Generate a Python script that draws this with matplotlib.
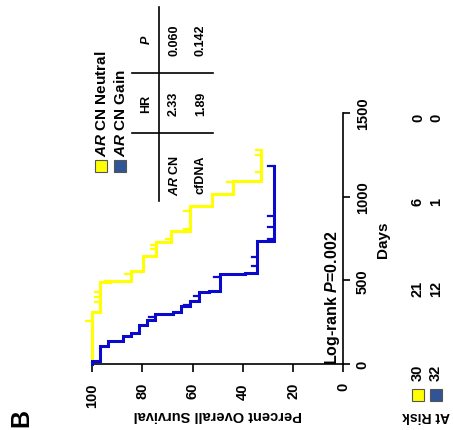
import matplotlib
matplotlib.use("Agg")
import matplotlib.pyplot as plt
import numpy as np
from matplotlib.lines import Line2D
from matplotlib.patches import Rectangle
from matplotlib.transforms import blended_transform_factory

plt.rcParams["font.family"] = ["Liberation Sans", "DejaVu Sans"]
plt.rcParams["font.weight"] = "bold"
plt.rcParams["mathtext.fontset"] = "custom"
plt.rcParams["mathtext.it"] = "Liberation Sans:italic:bold"
plt.rcParams["mathtext.rm"] = "Liberation Sans:bold"
plt.rcParams["mathtext.bf"] = "Liberation Sans:bold"

# ---- data -----------------------------------------------------------------
groups = ["AR CN Neutral", "AR CN Gain"]

neutral_days = [309, 489, 498, 558, 648, 728, 797, 947, 1017, 1096]
neutral_surv = [96.7, 92.7, 84.5, 79.8, 74.5, 68.5, 61.2, 52.2, 43.9, 32.7]
neutral_last = 1276
neutral_censor = [255, 369, 399, 429, 495, 540, 688, 712, 748, 807, 917, 1087, 1146, 1250, 1276]

gain_days = [20, 109, 139, 169, 185, 232, 265, 299, 313, 349, 379, 430, 438, 538, 541, 738]
gain_surv = [96.9, 93.75, 87.5, 84.4, 81.25, 78.1, 75.0, 67.7, 64.4, 61.1, 57.4, 53.4, 49.1, 39.2, 34.3, 27.6]
gain_last = 1186
gain_censor = [280, 355, 404, 518, 588, 638, 748, 818, 887, 1186]

risk_days = [0, 500, 1000, 1500]
risk_neutral = [30, 21, 6, 0]
risk_gain = [32, 12, 1, 0]

percent_ticks = [0, 20, 40, 60, 80, 100]
day_ticks = [0, 500, 1000, 1500]

table_cols = ["", "HR", "$\\mathit{P}$"]
table_rows = [["$\\mathit{AR}$ CN", "2.33", "0.060"],
              ["cfDNA", "1.89", "0.142"]]

logrank_text = "Log-rank $\\mathit{P}$=0.002"

YELLOW = "#FFFF00"
BLUE = "#0A0ACC"
BLUE_BOX = "#2F5597"

# ---- figure (panel drawn turned a quarter turn) --------------------------
W, H = 453, 431
fig = plt.figure(figsize=(W / 100, H / 100), dpi=100)


def fx(x):
    return x / W


def fy(y):
    return 1 - y / H


x0, x1 = 92.0, 343.3
y0, y1 = 365.0, 114.0
ax = fig.add_axes([fx(x0), fy(y0), fx(x1) - fx(x0), fy(y1) - fy(y0)])
ax.set_xlim(100, 0)
ax.set_ylim(0, 1500)
ax.patch.set_visible(False)

for side in ("left", "top"):
    ax.spines[side].set_visible(False)
for side in ("bottom", "right"):
    ax.spines[side].set_linewidth(1.2)

ax.yaxis.tick_right()
ax.set_xticks(percent_ticks)
ax.set_yticks(day_ticks)
ax.tick_params(axis="x", direction="out", length=6, width=1.2, pad=7,
               labelsize=10.5, labelrotation=90)
ax.tick_params(axis="y", direction="out", length=5, width=1.2, pad=4,
               labelsize=10.5, labelrotation=90)
for lab in ax.get_yticklabels():
    lab.set_va("center")


def km_path(days, surv, last):
    xs, ys = [100.0], [0.0]
    prev = 100.0
    for d, s in zip(days, surv):
        xs += [prev, s]
        ys += [d, d]
        prev = s
    xs.append(prev)
    ys.append(last)
    return np.array(xs), np.array(ys)


def surv_at(t, days, surv):
    idx = np.searchsorted(days, t, side="right")
    return 100.0 if idx == 0 else surv[idx - 1]


for days, surv, last, cens, col in [
    (neutral_days, neutral_surv, neutral_last, neutral_censor, YELLOW),
    (gain_days, gain_surv, gain_last, gain_censor, BLUE),
]:
    xs, ys = km_path(days, surv, last)
    ax.plot(xs, ys, color=col, lw=2.2, clip_on=False, solid_joinstyle="miter",
            zorder=3)
    for c in cens:
        s = surv_at(c, days, surv)
        ax.plot([s, s + 2.2], [c, c], color=col, lw=1.6, clip_on=False, zorder=3)

ax.text(fx(332), 0, logrank_text,
        transform=blended_transform_factory(fig.transFigure, ax.transData),
        rotation=90, ha="center", va="bottom", fontsize=11.5)

# axis titles
fig.text(fx(217.5), fy(415), "Percent Overall Survival", rotation=180,
         ha="center", va="center", fontsize=10.5)
fig.text(fx(383), fy(240), "Days", rotation=90, ha="center", va="center",
         fontsize=11)
fig.text(fx(21), fy(418), "B", rotation=90, ha="center", va="center",
         fontsize=18)

# numbers at risk
risk_tr = blended_transform_factory(fig.transFigure, ax.transData)
for d, n in zip(risk_days, risk_neutral):
    ax.text(fx(418), d, str(n), transform=risk_tr, rotation=90,
            ha="center", va="top", fontsize=10.5)
for d, n in zip(risk_days, risk_gain):
    ax.text(fx(436), d, str(n), transform=risk_tr, rotation=90,
            ha="center", va="top", fontsize=10.5)
for xc, col in [(418, YELLOW), (436, BLUE_BOX)]:
    fig.add_artist(Rectangle((fx(xc - 6), fy(402)), fx(12), 12 / H,
                             transform=fig.transFigure, facecolor=col,
                             edgecolor="#555555", lw=0.8))
fig.text(fx(426), fy(416), "At Risk", rotation=180, ha="center", va="center",
         fontsize=10)

# legend
for xc, col, name in [(101, YELLOW, groups[0]), (120, BLUE_BOX, groups[1])]:
    fig.add_artist(Rectangle((fx(xc - 6), fy(173)), fx(12), 12 / H,
                             transform=fig.transFigure, facecolor=col,
                             edgecolor="#555555", lw=0.8))
    label = "$\\mathit{AR}$" + name[2:]
    fig.text(fx(xc), fy(157), label, rotation=90, ha="center", va="bottom",
             fontsize=11)

# statistics table
fig.add_artist(Line2D([fx(159), fx(159)], [fy(8), fy(202)], color="black", lw=1.2))
for yy in (74, 134):
    fig.add_artist(Line2D([fx(132), fx(213)], [fy(yy), fy(yy)], color="black", lw=1.2))
col_y = [175, 104, 40]
for j, h in enumerate(table_cols):
    if h:
        fig.text(fx(146), fy(col_y[j]), h, rotation=90, ha="center", va="center",
                 fontsize=9)
for i, row in enumerate(table_rows):
    for j, cell in enumerate(row):
        fig.text(fx(174 + 27 * i), fy(col_y[j]), cell, rotation=90,
                 ha="center", va="center", fontsize=9)

fig.savefig("out.png", dpi=100)
